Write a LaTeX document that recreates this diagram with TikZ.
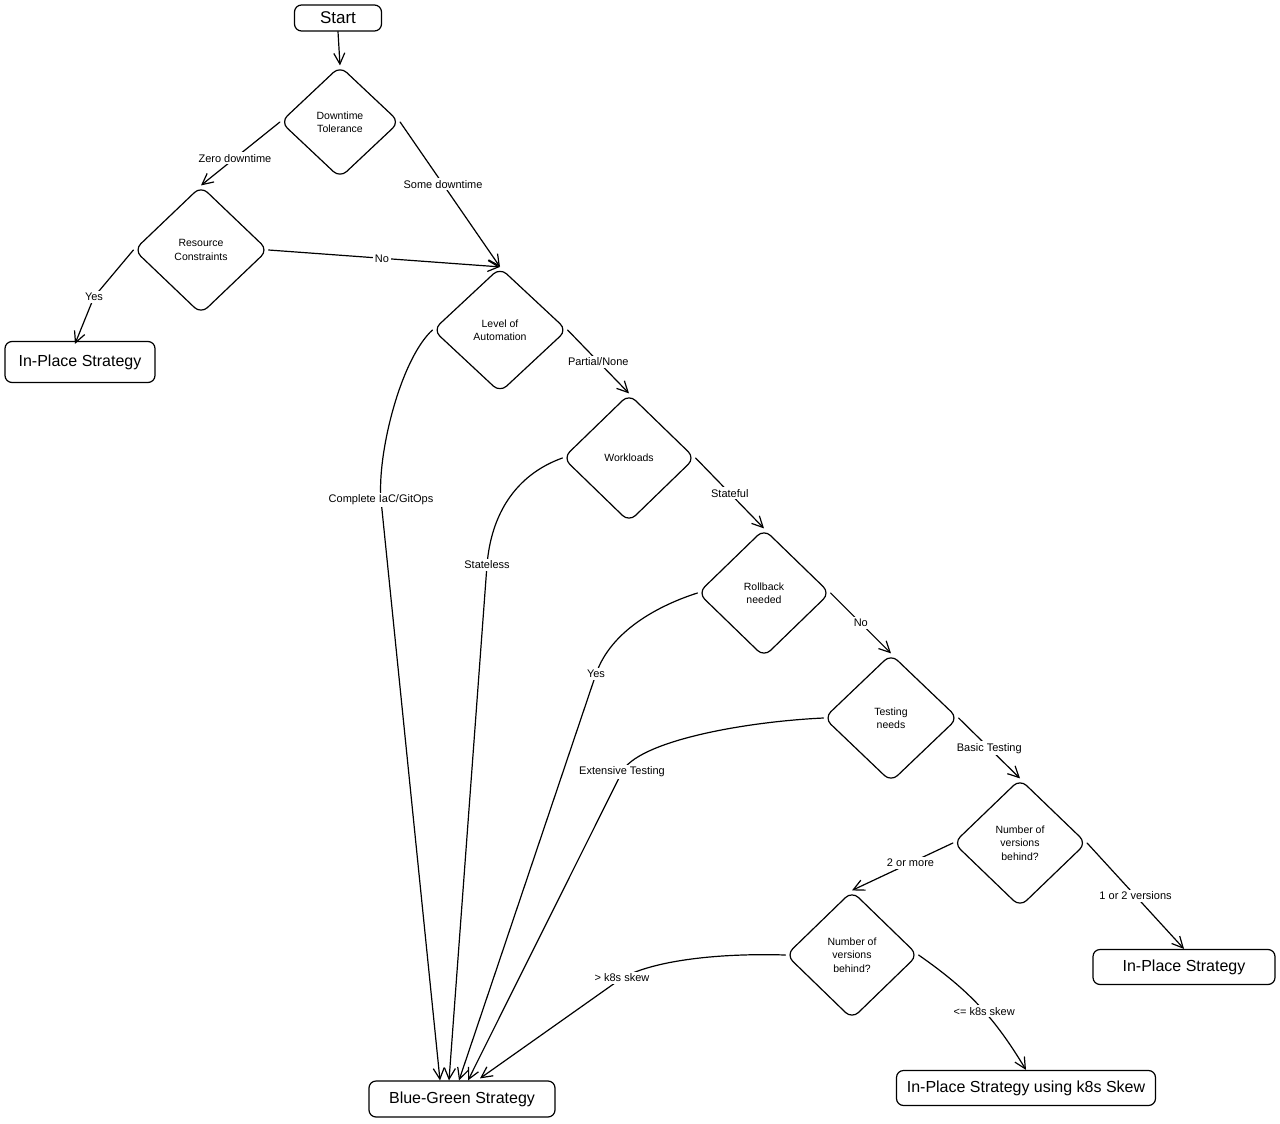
\documentclass[tikz,border=0pt]{standalone}
\usepackage{fontspec}
\setmainfont{Liberation Sans}
\usetikzlibrary{shapes.geometric,arrows.meta,calc}
\begin{document}
\begin{tikzpicture}[x=1pt,y=-1pt,
  ln/.style={line width=1.2pt, line cap=round, line join=round},
  arr/.style={ln, -{Straight Barb[length=11pt,width=11pt,line width=1.2pt]}},
  box/.style={draw, ln, rounded corners=7pt, inner sep=0pt, font=\fontsize{16}{19}\selectfont},
  dia/.style={diamond, draw, ln, rounded corners=9pt, inner sep=0pt, align=center, font=\fontsize{10.5}{13.5}\selectfont},
  lbl/.style={fill=white, inner sep=2pt, font=\fontsize{11}{13}\selectfont},
]
\fill[white] (0,0) rectangle (1280,1124);
\useasboundingbox (0,0) rectangle (1280,1124);

% nodes
\node[box, minimum width=87pt, minimum height=26pt, font=\fontsize{17}{20}\selectfont] (start) at (338,18) {Start};
\node[dia, minimum width=119pt, minimum height=112pt] (d1) at (340,122) {Downtime\\Tolerance};
\node[dia, minimum width=134pt, minimum height=128pt] (d2) at (201,250) {Resource\\Constraints};
\node[box, minimum width=150pt, minimum height=41pt] (ip1) at (80,362) {In-Place Strategy};
\node[dia, minimum width=134pt, minimum height=125pt] (d3) at (500,330) {Level of\\Automation};
\node[dia, minimum width=132pt, minimum height=128pt] (d4) at (629,458) {Workloads};
\node[dia, minimum width=132pt, minimum height=128pt] (d5) at (764,593) {Rollback\\needed};
\node[dia, minimum width=134pt, minimum height=128pt] (d6) at (891,718) {Testing\\needs};
\node[dia, minimum width=133pt, minimum height=128pt] (d7) at (1020,843) {Number of\\versions\\behind?};
\node[dia, minimum width=132pt, minimum height=128pt] (d8) at (852,955) {Number of\\versions\\behind?};
\node[box, minimum width=182pt, minimum height=35pt] (ip2) at (1184,967) {In-Place Strategy};
\node[box, minimum width=259pt, minimum height=35pt] (ip3) at (1026,1088) {In-Place Strategy using k8s Skew};
\node[box, minimum width=186pt, minimum height=36pt] (bg) at (462,1099) {Blue-Green Strategy};

\coordinate (ip1in) at ($(ip1.north)+(-5,3)$);
\coordinate (bg1) at ($(bg.north)+(-22,0)$);
\coordinate (bg2) at ($(bg.north)+(-13,0)$);
\coordinate (bg3) at ($(bg.north)+(-3,0)$);
\coordinate (bg4) at ($(bg.north)+(6,0)$);
\coordinate (bg5) at ($(bg.north)+(18,-2)$);

% straight connectors
\draw[arr] (start.south) -- (d1.north);
\draw[arr] (d1.west) -- node[lbl,pos=0.57]{Zero downtime} (d2.north);
\draw[arr] (d1.east) -- node[lbl,pos=0.43]{Some downtime} (d3.north);
\draw[arr] (d2.east) -- node[lbl,pos=0.49]{No} (d3.north);
\draw[arr] (d2.west) -- (94,297) node[lbl]{Yes} -- (ip1in);
\draw[arr] (d3.east) -- node[lbl]{Partial/None} (d4.north);
\draw[arr] (d4.east) -- node[lbl]{Stateful} (d5.north);
\draw[arr] (d5.east) -- node[lbl]{No} (d6.north);
\draw[arr] (d6.east) -- node[lbl]{Basic Testing} (d7.north);
\draw[arr] (d7.west) -- node[lbl,pos=0.42]{2 or more} (d8.north);
\draw[arr] (d7.east) -- node[lbl,pos=0.5]{1 or 2 versions} (ip2.north);
\draw[arr] (d8.east) to[bend left=12] node[lbl,pos=0.55]{<= k8s skew} (ip3.north);

% curved connectors into Blue-Green
\draw[arr] (d3.west) .. controls (400,360) and (377,455) .. (381,500) -- node[lbl,pos=0]{Complete IaC/GitOps} (bg1);
\draw[arr] (d4.west) .. controls (515,475) and (491,515) .. (487,565) -- node[lbl,pos=0]{Stateless} (bg2);
\draw[arr] (d5.west) .. controls (660,605) and (611,630) .. (596,674) -- node[lbl,pos=0]{Yes} (bg3);
\draw[arr] (d6.west) .. controls (740,722) and (637,742) .. (622,772) -- node[lbl,pos=0]{Extensive Testing} (bg4);
\draw[arr] (d8.west) .. controls (720,953) and (655,960) .. (622,978) -- node[lbl,pos=0]{> k8s skew} (bg5);
\end{tikzpicture}
\end{document}
